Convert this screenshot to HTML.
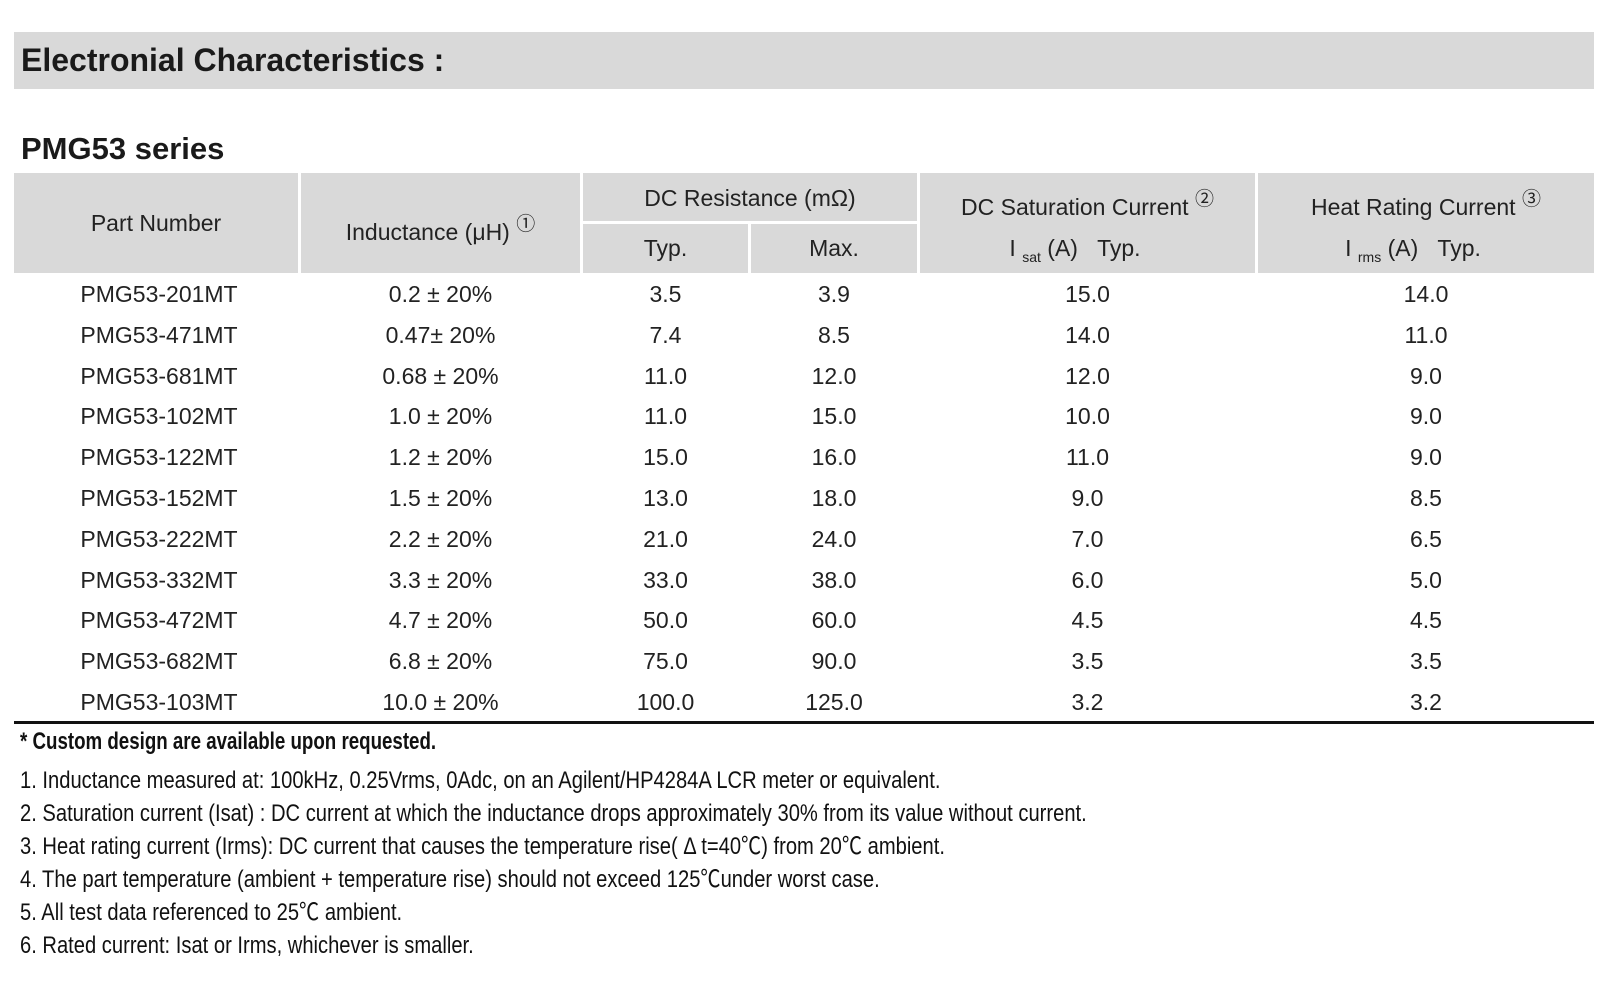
<!DOCTYPE html>
<html><head><meta charset="utf-8"><style>
body{margin:0;width:1600px;height:999px;background:#fff;position:relative;overflow:hidden;font-family:"Liberation Sans","Noto Sans CJK SC",sans-serif;color:#1a1a1a}
.a{position:absolute}
.h{background:#d9d9d9}
.c{position:absolute;text-align:center;font-size:23px;line-height:26px;color:#222}
.n{position:absolute;left:20px;font-size:24px;line-height:28px;white-space:nowrap;transform:scaleX(0.84);transform-origin:left center;color:#111}
sup{font-size:19px;vertical-align:10px}
sub{font-size:14px;vertical-align:-6px}
</style></head><body>
<div class="a h" style="left:14px;top:32px;width:1580px;height:57px"></div>
<div class="a" style="left:21px;top:41px;font-size:32px;font-weight:bold;line-height:38px">Electronial Characteristics :</div>
<div class="a" style="left:21px;top:131px;font-size:31px;font-weight:bold;line-height:36px">PMG53 series</div>

<div class="a h" style="left:14px;top:173px;width:284px;height:100px"></div>
<div class="a h" style="left:301px;top:173px;width:279px;height:100px"></div>
<div class="a h" style="left:583px;top:173px;width:334px;height:48px"></div>
<div class="a h" style="left:583px;top:224px;width:165px;height:49px"></div>
<div class="a h" style="left:751px;top:224px;width:166px;height:49px"></div>
<div class="a h" style="left:920px;top:173px;width:335px;height:100px"></div>
<div class="a h" style="left:1258px;top:173px;width:336px;height:100px"></div>

<div class="c" style="left:14px;width:284px;top:210px">Part Number</div>
<div class="c" style="left:301px;width:279px;top:212px">Inductance (μH) <sup>①</sup></div>
<div class="c" style="left:583px;width:334px;top:185px">DC Resistance (mΩ)</div>
<div class="c" style="left:583px;width:165px;top:235px">Typ.</div>
<div class="c" style="left:751px;width:166px;top:235px">Max.</div>
<div class="c" style="left:920px;width:335px;top:187px">DC Saturation Current <sup>②</sup></div>
<div class="c" style="left:920px;width:310px;top:235px">I <sub>sat</sub> (A) &nbsp;&nbsp;Typ.</div>
<div class="c" style="left:1258px;width:336px;top:187px">Heat Rating Current <sup>③</sup></div>
<div class="c" style="left:1258px;width:310px;top:235px">I <sub>rms</sub> (A) &nbsp;&nbsp;Typ.</div>

<div id="rows"></div>
<div class="a" style="left:14px;top:721px;width:1580px;height:3px;background:#111"></div>

<div class="n" style="top:728px;font-weight:bold;transform:scaleX(0.78)">* Custom design are available upon requested.</div>
<div class="n" style="top:767px">1. Inductance measured at: 100kHz, 0.25Vrms, 0Adc, on an Agilent/HP4284A LCR meter or equivalent.</div>
<div class="n" style="top:800px">2. Saturation current (Isat) : DC current at which the inductance drops approximately 30% from its value without current.</div>
<div class="n" style="top:833px">3. Heat rating current (Irms): DC current that causes the temperature rise( Δ t=40℃) from 20℃ ambient.</div>
<div class="n" style="top:866px">4. The part temperature (ambient + temperature rise) should not exceed 125℃under worst case.</div>
<div class="n" style="top:899px">5. All test data referenced to 25℃ ambient.</div>
<div class="n" style="top:932px">6. Rated current: Isat or Irms, whichever is smaller.</div>
<script>
var d=[["PMG53-201MT","0.2 ± 20%","3.5","3.9","15.0","14.0"],["PMG53-471MT","0.47± 20%","7.4","8.5","14.0","11.0"],["PMG53-681MT","0.68 ± 20%","11.0","12.0","12.0","9.0"],["PMG53-102MT","1.0 ± 20%","11.0","15.0","10.0","9.0"],["PMG53-122MT","1.2 ± 20%","15.0","16.0","11.0","9.0"],["PMG53-152MT","1.5 ± 20%","13.0","18.0","9.0","8.5"],["PMG53-222MT","2.2 ± 20%","21.0","24.0","7.0","6.5"],["PMG53-332MT","3.3 ± 20%","33.0","38.0","6.0","5.0"],["PMG53-472MT","4.7 ± 20%","50.0","60.0","4.5","4.5"],["PMG53-682MT","6.8 ± 20%","75.0","90.0","3.5","3.5"],["PMG53-103MT","10.0 ± 20%","100.0","125.0","3.2","3.2"]];
var cx=[[14,290],[301,279],[583,165],[751,166],[920,335],[1258,336]],h="";
d.forEach(function(r,i){var t=281+i*40.8;r.forEach(function(v,j){h+='<div class="c" style="left:'+cx[j][0]+'px;width:'+cx[j][1]+'px;top:'+t+'px">'+v+'</div>';});});
document.getElementById("rows").innerHTML=h;
</script>
</body></html>
